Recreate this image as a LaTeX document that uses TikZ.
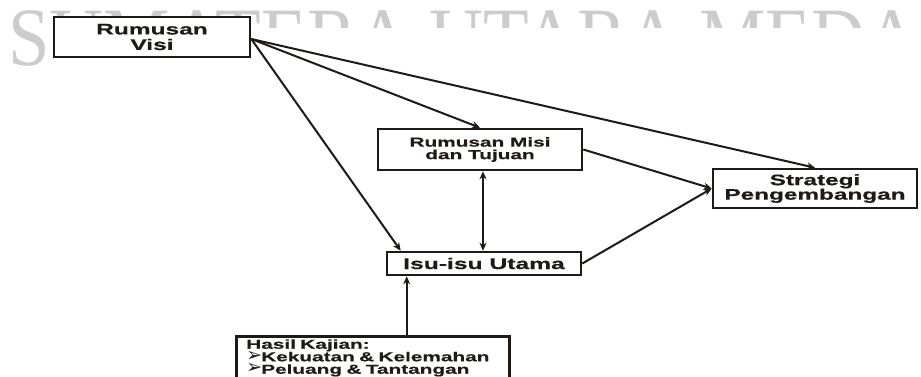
\documentclass[tikz,border=0pt]{standalone}
\usepackage{fontspec}
\setmainfont{Liberation Sans}
\newfontfamily\labfont[FakeStretch=1.6,FakeBold=0.6]{Liberation Sans Bold}
\newfontfamily\dingfont{DejaVu Sans}
\newfontfamily\wmfont[FakeStretch=0.9]{Liberation Serif}
\usetikzlibrary{arrows.meta,calc}
\definecolor{wmgray}{gray}{0.80}
\definecolor{ink}{RGB}{30,26,24}
\tikzset{
  boxnode/.style={draw=ink, line width=2.6pt, fill=white, inner sep=0pt, align=center, text=ink},
  conn/.style={draw=ink, line width=2pt, -{Stealth[length=8pt,width=7pt]}},
  biconn/.style={draw=ink, line width=2pt, {Stealth[length=8pt,width=7pt]}-{Stealth[length=8pt,width=7pt]}},
}
\newcommand{\arrowbullet}{\raisebox{0pt}[0pt][0pt]{\dingfont\fontsize{19}{12}\selectfont ➢}\kern-1pt}
\begin{document}
\begin{tikzpicture}[x=1pt,y=-1pt]
\useasboundingbox (0,0) rectangle (921,376);
\clip (0,0) rectangle (921,376);
% watermark
\node[anchor=base west, inner sep=0pt, text=wmgray, font=\wmfont\fontsize{83}{83}\selectfont] (wm) at (8,65) {SUMATERA UTARA MEDAN};
\fill[white] (45,28) rectangle (921,376);
% boxes
\node[boxnode, minimum width=196pt, minimum height=40pt, font=\labfont\fontsize{15.3}{15.5}\selectfont] (visi) at (152,37) {Rumusan\\Visi};
\node[boxnode, minimum width=204pt, minimum height=41pt, font=\labfont\fontsize{13}{12.5}\selectfont] (misi) at (480,149.5) {Rumusan Misi\\dan Tujuan};
\node[boxnode, minimum width=194pt, minimum height=23pt, font=\labfont\fontsize{15.4}{15}\selectfont] (isu) at (484,263.5) {Isu-isu Utama};
\node[boxnode, minimum width=204pt, minimum height=39pt, font=\labfont\fontsize{15.2}{14.5}\selectfont] (strat) at (815,188.5) {Strategi\\Pengembangan};
\node[boxnode, anchor=north west, text width=253pt, align=left, inner xsep=10pt, inner ysep=3pt, font=\labfont\fontsize{13}{12.5}\selectfont] (hasil) at (235,335) {Hasil Kajian:\\\arrowbullet Kekuatan \& Kelemahan\\\arrowbullet Peluang \& Tantangan\\[6pt]};
% connectors
\coordinate (visiout) at ($(visi.east)+(0,2)$);
\coordinate (isuin) at ($(isu.north west)+(15,0)$);
\coordinate (isubot) at ($(isu.south west)+(21,0)$);
\coordinate (misibot) at ($(misi.south)+(3,0)$);
\draw[conn] (visiout) -- (misi.north);
\draw[conn] (visiout) -- (strat.north);
\draw[conn] (visiout) -- (isuin);
\draw[biconn] (misibot) -- (misibot |- isu.north);
\draw[conn] (misi.east) -- (strat.west);
\draw[conn] (isu.east) -- (strat.west);
\draw[conn] (isubot |- hasil.north) -- (isubot);
\end{tikzpicture}
\end{document}
